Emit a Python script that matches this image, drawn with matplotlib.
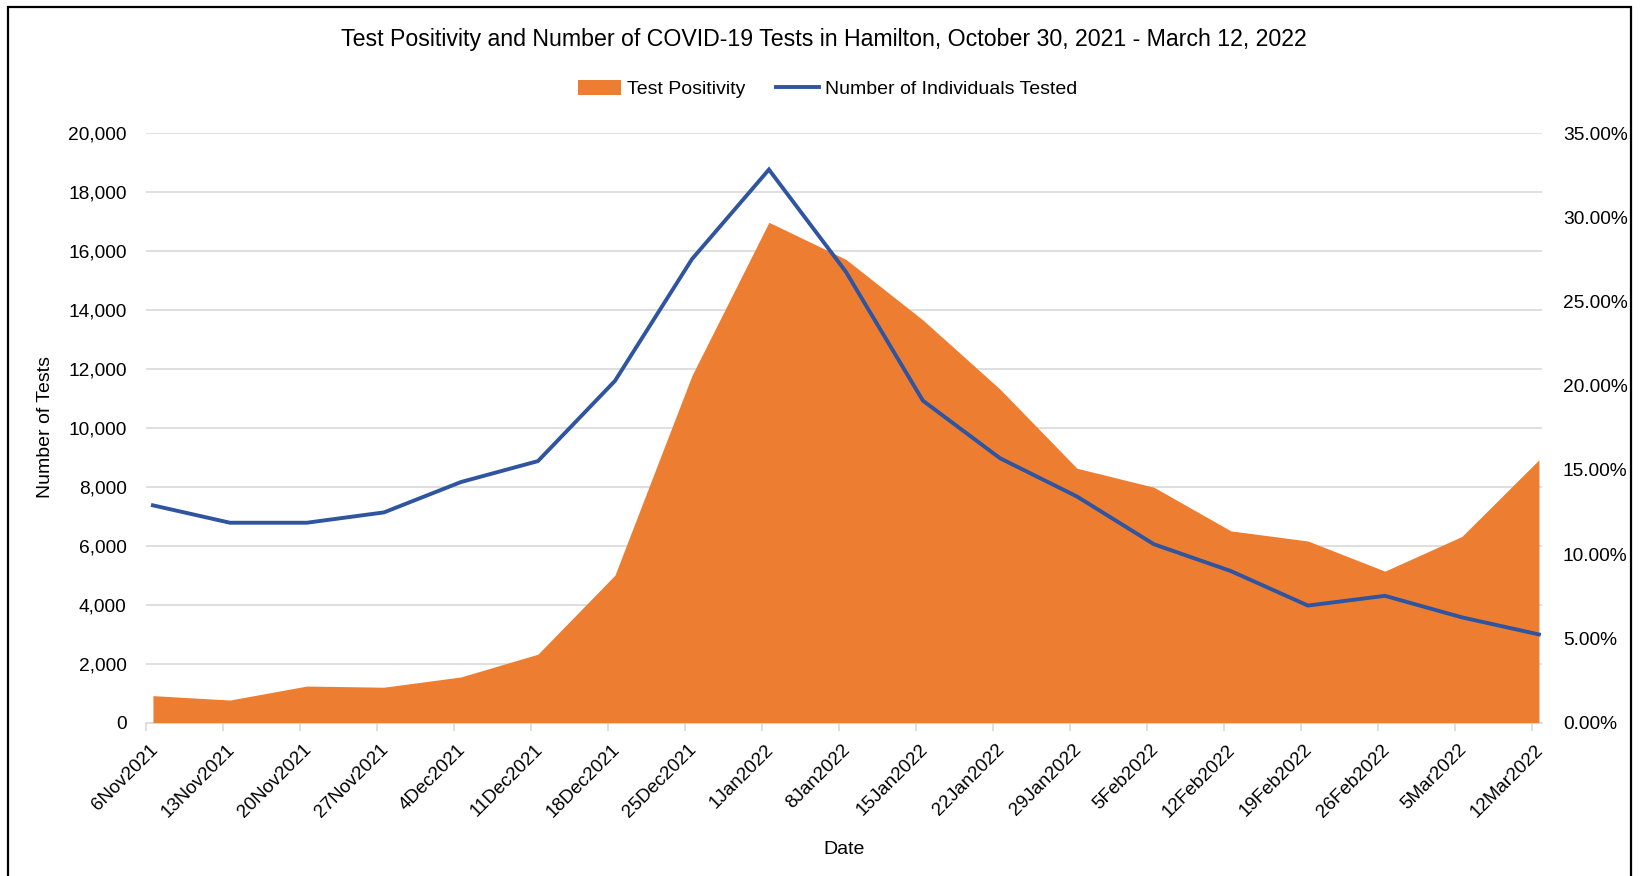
import numpy as np
import matplotlib
matplotlib.use("Agg")
import matplotlib.pyplot as plt
from matplotlib.patches import Rectangle, Patch
from matplotlib.lines import Line2D
from matplotlib.ticker import FuncFormatter, MultipleLocator
from matplotlib.transforms import ScaledTranslation

# weekly data
dates = ["6Nov2021", "13Nov2021", "20Nov2021", "27Nov2021", "4Dec2021",
         "11Dec2021", "18Dec2021", "25Dec2021", "1Jan2022", "8Jan2022",
         "15Jan2022", "22Jan2022", "29Jan2022", "5Feb2022", "12Feb2022",
         "19Feb2022", "26Feb2022", "5Mar2022", "12Mar2022"]
tested = [7370, 6780, 6780, 7130, 8160, 8870, 11590, 15720, 18760, 15290,
          10920, 8970, 7670, 6050, 5140, 3970, 4300, 3570, 2990]
positivity = [1.6, 1.34, 2.17, 2.1, 2.71, 4.06, 8.75, 20.6, 29.7, 27.5,
              23.9, 19.8, 15.1, 13.97, 11.38, 10.78, 8.99, 11.05, 15.6]

ORANGE = "#ED7D31"
BLUE = "#2F55A0"
FONT = ["Liberation Sans", "DejaVu Sans"]
W, H = 1642, 876

fig = plt.figure(figsize=(W / 100, H / 100), dpi=100)
ax = fig.add_axes([146 / W, 1 - 722.6 / H, (1542 - 146) / W, (722.6 - 133) / H])

x = np.arange(len(dates))
shift = 0.09  # data sits a little right of the tick marks

# left axis: grid + labels
ax.set_xlim(0, len(dates) - 1 + 0.13)
ax.set_ylim(0, 20000)
ax.yaxis.set_major_locator(MultipleLocator(2000))
ax.yaxis.set_major_formatter(FuncFormatter(lambda v, p: f"{int(v):,}"))
ax.grid(axis="y", color="#d9d9d9", linewidth=1.2)
ax.set_axisbelow(True)
for s in ["top", "right", "left"]:
    ax.spines[s].set_visible(False)
ax.spines["bottom"].set_color("#d9d9d9")
ax.spines["bottom"].set_linewidth(1.2)
ax.tick_params(axis="y", length=0, pad=14)
ax.tick_params(axis="x", length=5.4, color="#d9d9d9", width=1.2, pad=8)
ax.set_xticks(x)
ax.set_xticklabels(dates, rotation=45, ha="right", va="top",
                   rotation_mode="anchor", family=FONT, fontsize=13.5)
offset = ScaledTranslation(3 / 100, 0, fig.dpi_scale_trans)
for lab in ax.get_xticklabels():
    lab.set_transform(lab.get_transform() + offset)
for lab in ax.get_yticklabels():
    lab.set_family(FONT)
    lab.set_fontsize(13.8)

fig.text(844 / W, 1 - 849 / H, "Date", ha="center", va="center",
         family=FONT, fontsize=14)
fig.text(46 / W, 1 - 427 / H, "Number of Tests", ha="center", va="center",
         rotation=90, family=FONT, fontsize=14)

# right axis: test positivity area
ax2 = ax.twinx()
ax2.fill_between(x + shift, positivity, 0, color=ORANGE, linewidth=0)
ax2.set_ylim(0, 35)
ax2.yaxis.set_major_locator(MultipleLocator(5))
ax2.yaxis.set_major_formatter(FuncFormatter(lambda v, p: f"{v:.2f}%"))
ax2.tick_params(axis="y", length=0, pad=15)
for lab in ax2.get_yticklabels():
    lab.set_family(FONT)
    lab.set_fontsize(13.8)
for s in ax2.spines.values():
    s.set_visible(False)

# line on top, in test-count units
ax3 = ax.twinx()
ax3.plot(x + shift, tested, color=BLUE, linewidth=2.8, solid_joinstyle="miter")
ax3.set_ylim(0, 20000)
ax3.set_xlim(ax.get_xlim())
ax3.axis("off")

fig.text(0.502, 0.955, "Test Positivity and Number of COVID-19 Tests in Hamilton, "
         "October 30, 2021 - March 12, 2022", ha="center", va="center",
         family=FONT, fontsize=16.7)

handles = [Patch(facecolor=ORANGE, edgecolor="none"),
           Line2D([0], [0], color=BLUE, linewidth=2.8)]
fig.legend(handles, ["Test Positivity", "Number of Individuals Tested"],
           loc="center", bbox_to_anchor=(0.504, 0.898), ncol=2, frameon=False,
           prop={"family": FONT, "size": 14}, handlelength=2.2,
           handleheight=0.8, handletextpad=0.3, columnspacing=1.6)

# outer frame
fig.patches.append(Rectangle((8 / W, -0.02), (1631 - 8) / W, 1.02 - 7 / H,
                             transform=fig.transFigure, fill=False,
                             edgecolor="black", linewidth=1.6))

fig.savefig("out.png", dpi=100)
